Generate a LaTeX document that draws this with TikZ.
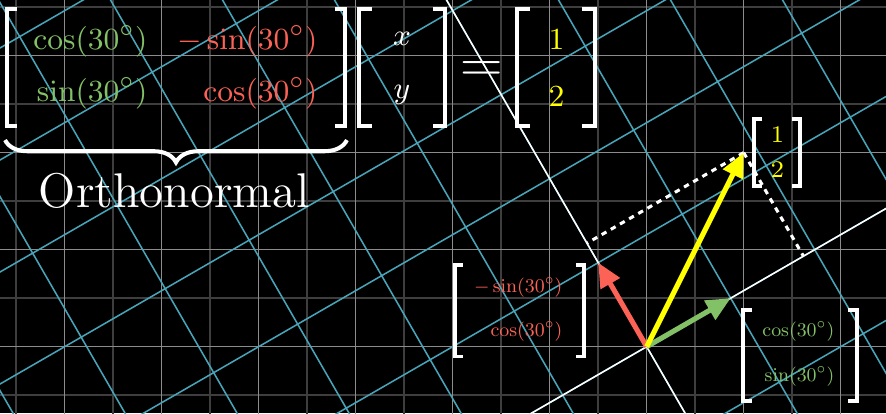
\documentclass[tikz,border=0pt]{standalone}
\usepackage{amssymb}
\usepackage{amsmath}
\usetikzlibrary{arrows.meta,calc,decorations.pathreplacing}
\definecolor{vgreen}{HTML}{83C167}
\definecolor{vred}{HTML}{FC6255}
\definecolor{vyellow}{HTML}{FFFF00}
\definecolor{vcyan}{RGB}{72,165,185}
\definecolor{gmajor}{RGB}{140,140,140}
\definecolor{gminor}{RGB}{62,62,62}
% left x, right x, top y, bottom y, arm, style
\newcommand{\vbrack}[6]{%
	\draw[#6] (#1+#5,#3) -- (#1,#3) -- (#1,#4) -- (#1+#5,#4);
	\draw[#6] (#2-#5,#3) -- (#2,#3) -- (#2,#4) -- (#2-#5,#4);}
\newcommand{\sm}[1]{\scalebox{0.63}{#1}}

\begin{document}
\begin{tikzpicture}[>={Triangle[length=0.25cm,width=0.22cm]},
	ent/.style={inner sep=0,font=\fontsize{9.4}{11}\selectfont},
	lab/.style={inner sep=0,font=\fontsize{9.4}{11}\selectfont},
	brak/.style={white,line width=1.2pt,line join=miter},
	sbrak/.style={white,line width=0.95pt,line join=miter},
	vec/.style={->,line width=1.5pt},
	proj/.style={white,line width=0.9pt,dash pattern=on 1.6pt off 1.5pt}]
	\useasboundingbox (-6.667,-0.684) rectangle (2.467,3.574);
	\fill[black] (-6.667,-0.684) rectangle (2.467,3.574);
	
	%grid
	\begin{scope}
	\clip (-6.667,-0.684) rectangle (2.467,3.574);
	\draw[gminor,line width=0.45pt] (-7,-1) grid[step=0.5] (3,4);
	\draw[gmajor,line width=0.45pt] (-7,-1) grid[step=1] (3,4);
	\begin{scope}[rotate=30]
	\draw[vcyan,line width=0.45pt] (-10,-10) grid[step=1] (10,10);
	\end{scope}
	%rotated axes
	\draw[white,line width=0.45pt] (210:9) -- (30:9);
	\draw[white,line width=0.45pt] (300:9) -- (120:9);
	\end{scope}
	
	%vectors
	\coordinate (O) at (0,0);
	\coordinate (g) at (30:1);
	\coordinate (r) at (120:1);
	\coordinate (Y) at (1,2);
	\coordinate (pr) at ($(O)!(Y)!(r)$);
	\coordinate (pg) at ($(O)!(Y)!(g)$);
	\draw[proj] (Y) -- (pr);
	\draw[proj] (Y) -- (pg);
	\draw[vec,vgreen] (O) -- (g);
	\draw[vec,vred] (O) -- (r);
	\draw[vec,vyellow] (O) -- (Y);
	
	%matrix equation
	\node[ent,text=vgreen,anchor=base east] (a11) at (-5.141,3.059) {$\cos(30^\circ)$};
	\node[ent,text=vred,anchor=base east] (a12) at (-3.388,3.059) {$-\sin(30^\circ)$};
	\node[ent,text=vgreen,anchor=base east] (a21) at (-5.141,2.523) {$\sin(30^\circ)$};
	\node[ent,text=vred,anchor=base east] (a22) at (-3.388,2.523) {$\cos(30^\circ)$};
	\vbrack{-6.595}{-3.110}{3.481}{2.275}{0.105}{brak}
	
	\node[ent,text=white,anchor=base] (vx) at (-2.523,3.110) {$x$};
	\node[ent,text=white,anchor=base] (vy) at (-2.523,2.554) {$y$};
	\vbrack{-2.962}{-2.080}{3.481}{2.275}{0.125}{brak}
	
	\node[inner sep=0,text=white,anchor=base,font=\fontsize{17.5}{20}\selectfont] (eq) at (-1.704,2.724) {$=$};
	
	\node[ent,text=vyellow,anchor=base] (b1) at (-0.93,3.059) {$1$};
	\node[ent,text=vyellow,anchor=base] (b2) at (-0.93,2.481) {$2$};
	\vbrack{-1.337}{-0.529}{3.481}{2.275}{0.135}{brak}
	
	\draw[brak,decorate,decoration={brace,mirror,amplitude=0.23cm}] (-6.615,2.130) -- (-3.090,2.130);
	\node[inner sep=0,text=white,anchor=base,font=\fontsize{14.3}{17}\selectfont] (orth) at (-4.871,1.430) {Orthonormal};
	
	%labels
	\node[lab,text=vyellow,anchor=base,font=\fontsize{6.8}{8}\selectfont] (c1) at (1.348,2.100) {$1$};
	\node[lab,text=vyellow,anchor=base,font=\fontsize{6.8}{8}\selectfont] (c2) at (1.348,1.739) {$2$};
	\vbrack{1.107}{1.581}{2.347}{1.656}{0.085}{sbrak}
	
	\node[lab,text=vred,anchor=base east] (r1) at (-0.862,0.561) {\sm{$-\sin(30^\circ)$}};
	\node[lab,text=vred,anchor=base east] (r2) at (-0.862,0.100) {\sm{$\cos(30^\circ)$}};
	\vbrack{-1.976}{-0.646}{0.843}{-0.100}{0.08}{sbrak}
	
	\node[lab,text=vgreen,anchor=base east] (g1) at (1.941,0.100) {\sm{$\cos(30^\circ)$}};
	\node[lab,text=vgreen,anchor=base east] (g2) at (1.941,-0.363) {\sm{$\sin(30^\circ)$}};
	\vbrack{0.993}{2.168}{0.378}{-0.560}{0.09}{sbrak}
\end{tikzpicture}
\end{document}
